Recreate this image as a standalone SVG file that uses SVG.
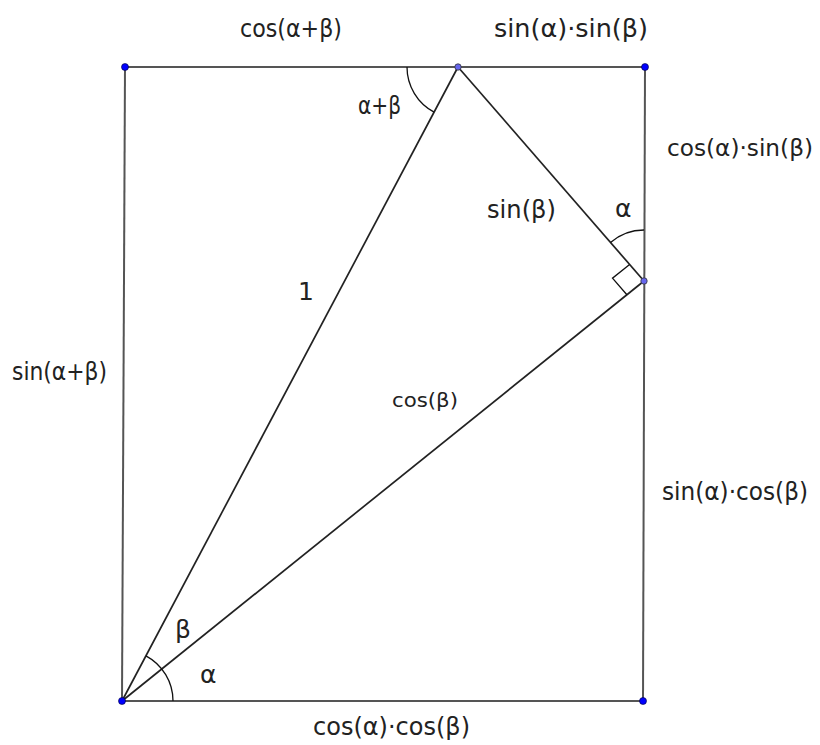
<svg xmlns="http://www.w3.org/2000/svg" width="820" height="745" viewBox="0 0 820 745">
<style>
.rect{stroke:#555;stroke-width:2;fill:none}
.tri{stroke:#222;stroke-width:1.7;fill:none}
.ang{stroke:#111;stroke-width:1.3;fill:none}
.pt{fill:#0000ff;stroke:#000033;stroke-width:0.6}
.pt2{fill:#6666ee;stroke:#333;stroke-width:0.8}
text{font-family:"DejaVu Sans","Liberation Sans",sans-serif;font-size:25px;fill:#222}
.sm{font-size:19px}
.nr{font-size:23px}
</style>
<rect width="820" height="745" fill="#fff"/>
<g id="connectors">
<line class="rect" x1="125" y1="67" x2="645" y2="67"/>
<line class="rect" x1="125" y1="67" x2="122" y2="701"/>
<line class="rect" x1="122" y1="701" x2="643" y2="701"/>
<line class="rect" x1="645" y1="67" x2="643" y2="701"/>
<line class="tri" x1="122" y1="701" x2="458" y2="67"/>
<line class="tri" x1="458" y1="67" x2="644" y2="281"/>
<line class="tri" x1="122" y1="701" x2="644" y2="281"/>
<path class="ang" d="M173,701 A51,51 0 0 0 145.9,655.9"/>
<path class="ang" d="M407,67 A51,51 0 0 0 434.1,112.1"/>
<path class="ang" d="M644,230 A51,51 0 0 0 610.5,242.5"/>
<path class="ang" d="M629.6,264.4 L612.5,278.2 L626.9,294.8"/>
</g>
<g id="A"><circle class="pt" cx="122" cy="701" r="3.5"/></g>
<g id="B"><circle class="pt" cx="643" cy="701" r="3.5"/></g>
<g id="C"><circle class="pt" cx="645" cy="67" r="3.5"/></g>
<g id="D"><circle class="pt" cx="125" cy="67" r="3.5"/></g>
<g id="E"><circle class="pt2" cx="458" cy="67" r="3.2"/></g>
<g id="F"><circle class="pt2" cx="644" cy="281" r="3.2"/></g>
<g id="labels">
<text x="240" y="37" textLength="102" lengthAdjust="spacingAndGlyphs">cos(α+β)</text>
<text x="494" y="37" textLength="154" lengthAdjust="spacingAndGlyphs">sin(α)·sin(β)</text>
<text x="358" y="114" textLength="43" lengthAdjust="spacingAndGlyphs">α+β</text>
<text class="nr" x="667" y="156" textLength="146" lengthAdjust="spacingAndGlyphs">cos(α)·sin(β)</text>
<text x="487" y="218" textLength="69" lengthAdjust="spacingAndGlyphs">sin(β)</text>
<text x="615" y="217">α</text>
<text x="298" y="300">1</text>
<text x="12" y="380" textLength="95" lengthAdjust="spacingAndGlyphs">sin(α+β)</text>
<text class="sm" x="392" y="407" textLength="66" lengthAdjust="spacingAndGlyphs">cos(β)</text>
<text x="662" y="500" textLength="146" lengthAdjust="spacingAndGlyphs">sin(α)·cos(β)</text>
<text x="175" y="638">β</text>
<text x="200" y="683">α</text>
<text x="313" y="735" textLength="157" lengthAdjust="spacingAndGlyphs">cos(α)·cos(β)</text>
</g>
</svg>
